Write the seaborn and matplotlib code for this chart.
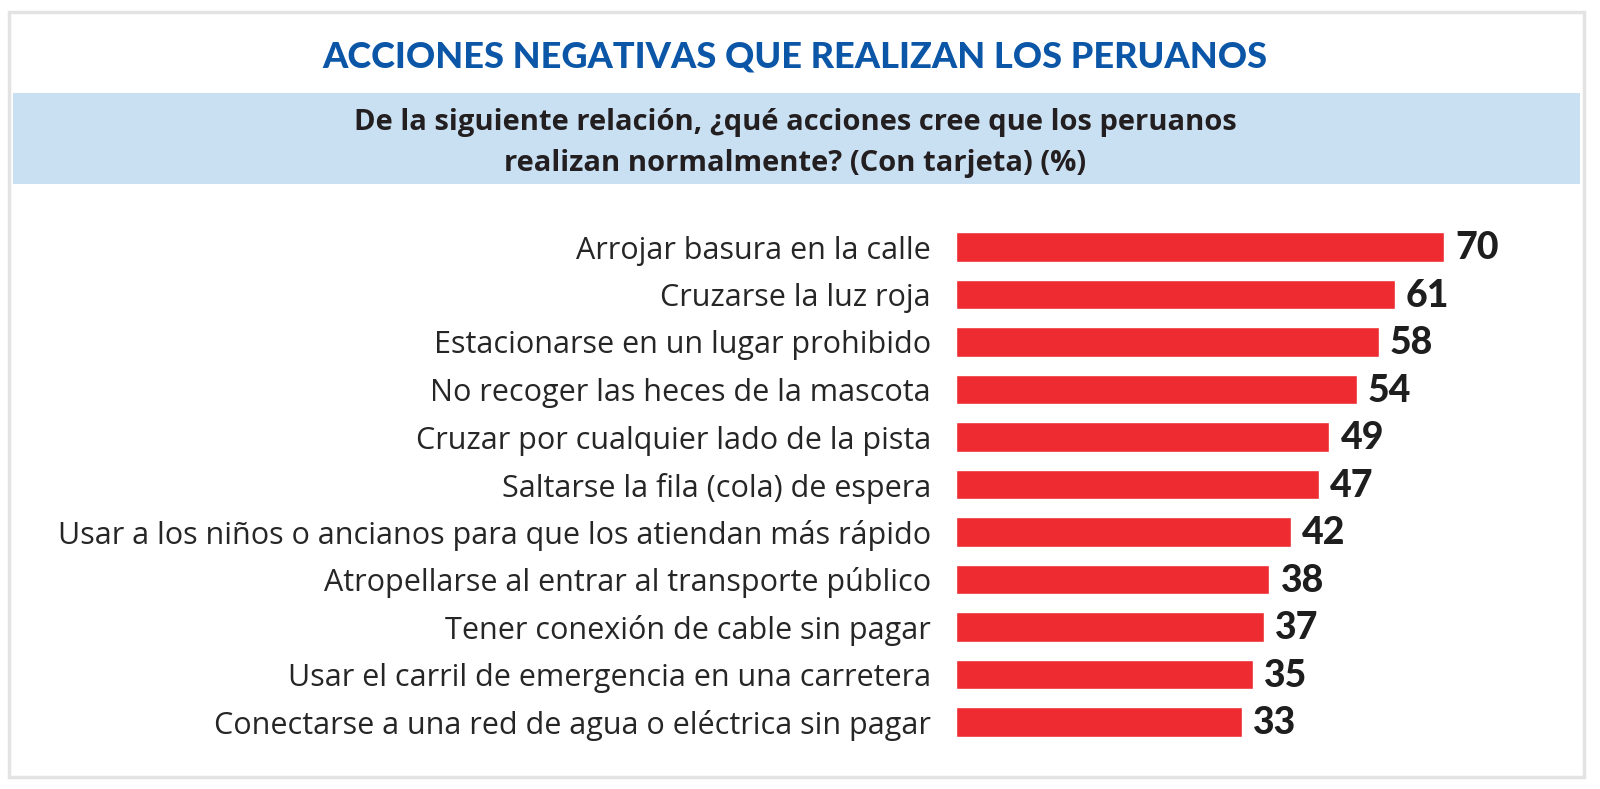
import matplotlib.pyplot as plt
from matplotlib.patches import Rectangle
import seaborn as sns
import pandas as pd

# datos del grafico
acciones = [
    "Arrojar basura en la calle",
    "Cruzarse la luz roja",
    "Estacionarse en un lugar prohibido",
    "No recoger las heces de la mascota",
    "Cruzar por cualquier lado de la pista",
    "Saltarse la fila (cola) de espera",
    "Usar a los niños o ancianos para que los atiendan más rápido",
    "Atropellarse al entrar al transporte público",
    "Tener conexión de cable sin pagar",
    "Usar el carril de emergencia en una carretera",
    "Conectarse a una red de agua o eléctrica sin pagar",
]
porcentajes = [70, 61, 58, 54, 49, 47, 42, 38, 37, 35, 33]

titulo = "ACCIONES NEGATIVAS QUE REALIZAN LOS PERUANOS"
pregunta = [
    "De la siguiente relación, ¿qué acciones cree que los peruanos",
    "realizan normalmente? (Con tarjeta) (%)",
]

ROJO = "#ED2B30"
AZUL = "#0B56A7"
BANDA = "#C9DFF2"
TEXTO = "#231F20"

# en la infografia las barras arrancan con un tramo fijo antes del cero
STUB = 19.4
XMAX = 85
PX_UNIDAD = 5.46

sns.set_theme(style="white")
plt.rcParams['font.family'] = ['Lato', 'DejaVu Sans']

W, H = 1600, 789
fig = plt.figure(figsize=(W / 100, H / 100), dpi=100)

# marco gris y banda celeste
fig.patches.append(Rectangle((9 / W, 1 - 777 / H), (1584 - 9) / W, (777 - 12) / H,
                             transform=fig.transFigure, fill=False,
                             edgecolor="#E3E3E3", linewidth=2.5))
fig.patches.append(Rectangle((13 / W, 1 - 184 / H), (1580 - 13) / W, (184 - 93) / H,
                             transform=fig.transFigure, facecolor=BANDA,
                             edgecolor="none"))

fig.text(0.497, 1 - 68 / H, titulo, ha="center", va="baseline",
         fontsize=26, fontweight="black", color=AZUL)
fig.text(0.497, 1 - 130 / H, pregunta[0], ha="center", va="baseline",
         fontsize=21, fontweight="bold", color=TEXTO, family=["Open Sans", "DejaVu Sans"])
fig.text(0.497, 1 - 171 / H, pregunta[1], ha="center", va="baseline",
         fontsize=21, fontweight="bold", color=TEXTO, family=["Open Sans", "DejaVu Sans"])

# ejes de las barras
alto_fila = 47.5
ax = fig.add_axes([956 / W, (H - 745.75) / H,
                   (XMAX + STUB) * PX_UNIDAD / W, 11 * alto_fila / H])

df = pd.DataFrame({"accion": acciones, "pct": porcentajes})
sns.barplot(data=df, x="pct", y="accion", orient="h", color=ROJO,
            saturation=1, width=0.63, ax=ax)

for p in ax.patches:
    p.set_width(p.get_width() + STUB)
    p.set_x(p.get_x() - STUB)

ax.set_xlim(-STUB, XMAX)
ax.set_ylim(10.5, -0.5)
ax.set_xlabel("")
ax.set_ylabel("")
ax.set_xticks([])
sns.despine(ax=ax, left=True, bottom=True)
ax.tick_params(axis="y", length=0, pad=18, labelsize=22, labelcolor="#262626")
for lbl in ax.get_yticklabels():
    lbl.set_family(["Open Sans", "DejaVu Sans"])
    lbl.set_fontweight("normal")

for i, v in enumerate(porcentajes):
    ax.annotate(str(v), xy=(v, i), xytext=(8, -1), textcoords="offset points",
                ha="left", va="center", fontsize=27, fontweight="black",
                color="#1E1E1E")

fig.savefig("out.png", dpi=100)
